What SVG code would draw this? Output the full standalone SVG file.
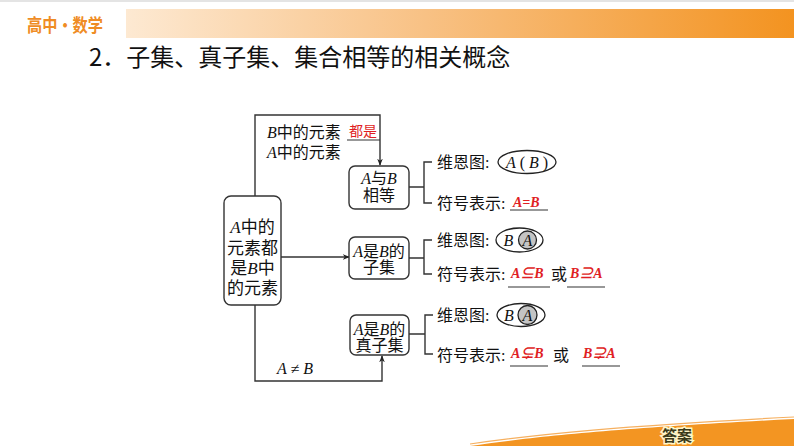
<svg xmlns="http://www.w3.org/2000/svg" width="794" height="446" viewBox="0 0 794 446">
<defs>
<linearGradient id="hdr" x1="0" y1="0" x2="1" y2="0">
<stop offset="0" stop-color="#fde9d2"/>
<stop offset="0.45" stop-color="#f8c184"/>
<stop offset="1" stop-color="#f39320"/>
</linearGradient>
<marker id="arr" viewBox="0 0 10 10" refX="9" refY="5" markerWidth="7" markerHeight="7" orient="auto" markerUnits="userSpaceOnUse">
<path d="M0,1 L10,5 L0,9 L3,5 Z" fill="#222"/>
</marker>
<style>
.box{fill:#fff;stroke:#333;stroke-width:1.4}
.ln{fill:none;stroke:#333;stroke-width:1.4}
.ul{stroke:#333;stroke-width:1.1}
.t{font-family:"Liberation Serif","Noto Sans CJK SC",serif;font-size:16px;fill:#111;dominant-baseline:central}
.big{font-size:17px}
.c{text-anchor:middle}
.i{font-style:italic}
.r{fill:#e01e24;font-size:14px;font-weight:bold;font-style:italic}
.rc{fill:#e01e24;font-family:"Noto Sans CJK SC",sans-serif;font-size:14px;dominant-baseline:central}
.ven{fill:none;stroke:#222;stroke-width:1.3}
.inner{fill:#c4c4c4;stroke:#222;stroke-width:1.3}
</style>
</defs>
<rect x="0" y="0" width="794" height="446" fill="#fff"/>
<rect x="0" y="0" width="794" height="2" fill="#e4e4e4"/>
<g id="header">
<rect x="126" y="9" width="668" height="29" fill="url(#hdr)"/>
<text x="27" y="24" font-family="Noto Sans CJK SC,sans-serif" font-size="18" font-weight="bold" fill="#ef8c24" dominant-baseline="central" textLength="76" lengthAdjust="spacingAndGlyphs">高中•数学</text>
</g>
<text id="title" x="89" y="55" font-family="Noto Sans CJK SC,sans-serif" font-size="24" fill="#111" dominant-baseline="central">2．子集、真子集、集合相等的相关概念</text>

<g id="connectors">
<path class="ln" d="M255,196 V115 H380 V165" marker-end="url(#arr)"/>
<path class="ln" d="M281,257 H349" marker-end="url(#arr)"/>
<path class="ln" d="M255,305 V381 H382 V356" marker-end="url(#arr)"/>
<path class="ln" d="M409,187 H424 M432,162 H424 V203 H432"/>
<path class="ln" d="M409,258 H424 M432,240 H424 V274 H432"/>
<path class="ln" d="M409,334 H425 M433,315 H425 V354 H433"/>
<line class="ul" x1="347" y1="140" x2="380" y2="140"/>
</g>

<g id="edge-label-top">
<text class="t" x="267" y="132"><tspan class="i">B</tspan>中的元素</text>
<text class="rc" x="349" y="130">都是</text>
<text class="t" x="267" y="152"><tspan class="i">A</tspan>中的元素</text>
</g>
<g id="edge-label-bottom">
<text class="t i" x="277" y="368" textLength="36">A≠B</text>
</g>

<g id="node-left">
<rect class="box" x="224" y="196" width="57" height="109" rx="7"/>
<text class="t big c" x="252.5" y="227"><tspan class="i">A</tspan>中的</text>
<text class="t big c" x="252.5" y="248">元素都</text>
<text class="t big c" x="252.5" y="268">是<tspan class="i">B</tspan>中</text>
<text class="t big c" x="252.5" y="288">的元素</text>
</g>

<g id="node-equal">
<rect class="box" x="349" y="166" width="60" height="43" rx="6"/>
<text class="t c" x="379" y="178"><tspan class="i">A</tspan>与<tspan class="i">B</tspan></text>
<text class="t c" x="379" y="195">相等</text>
</g>
<g id="node-subset">
<rect class="box" x="349" y="237" width="60" height="42" rx="6"/>
<text class="t c" x="379" y="251"><tspan class="i">A</tspan>是<tspan class="i">B</tspan>的</text>
<text class="t c" x="379" y="267">子集</text>
</g>
<g id="node-proper">
<rect class="box" x="350" y="315" width="59" height="40" rx="6"/>
<text class="t c" x="379.5" y="329"><tspan class="i">A</tspan>是<tspan class="i">B</tspan>的</text>
<text class="t c" x="379.5" y="345">真子集</text>
</g>

<g id="detail-equal">
<text class="t" x="437" y="162">维恩图:</text>
<ellipse class="ven" cx="527" cy="162" rx="29" ry="11.5"/>
<text class="t c" x="527" y="162"><tspan class="i">A</tspan> ( <tspan class="i">B</tspan> )</text>
<text class="t" x="437" y="203">符号表示:</text>
<text class="t r" x="513" y="202">A=B</text>
<line class="ul" x1="510" y1="210" x2="548" y2="210"/>
</g>

<g id="detail-subset">
<text class="t" x="437" y="240">维恩图:</text>
<ellipse class="ven" cx="519.5" cy="240" rx="23.5" ry="12"/>
<circle class="inner" cx="527.5" cy="240" r="9"/>
<text class="t i c" x="508.5" y="240">B</text>
<text class="t i c" x="527.5" y="240">A</text>
<text class="t" x="437" y="274">符号表示:</text>
<text class="t r" x="511" y="273">A⊆B</text>
<line class="ul" x1="508" y1="287" x2="550" y2="287"/>
<text class="t" x="551" y="274">或</text>
<text class="t r" x="570" y="273">B⊇A</text>
<line class="ul" x1="567" y1="287" x2="605" y2="287"/>
</g>

<g id="detail-proper">
<text class="t" x="437" y="315">维恩图:</text>
<ellipse class="ven" cx="521" cy="315" rx="24" ry="11.5"/>
<circle class="inner" cx="527.5" cy="315" r="9.5"/>
<text class="t i c" x="509" y="315">B</text>
<text class="t i c" x="527.5" y="315">A</text>
<text class="t" x="437" y="355">符号表示:</text>
<text class="t r" x="511" y="353">A⊊B</text>
<line class="ul" x1="510" y1="366" x2="548" y2="366"/>
<text class="t" x="553" y="355">或</text>
<text class="t r" x="583" y="353">B⊋A</text>
<line class="ul" x1="582" y1="366" x2="620" y2="366"/>
</g>

<g id="footer">
<path d="M470,446 C540,436 620,428 794,419 L794,446 Z" fill="#f39522"/>
<path d="M470,444 C540,434 620,426 794,417" fill="none" stroke="#f6b060" stroke-width="1.2"/>
<text x="677" y="434" text-anchor="middle" font-family="Noto Sans CJK SC,sans-serif" font-size="15" font-weight="bold" fill="#3a3a1a" stroke="#fff6c8" stroke-width="3" paint-order="stroke" dominant-baseline="central">答案</text>
</g>
</svg>
